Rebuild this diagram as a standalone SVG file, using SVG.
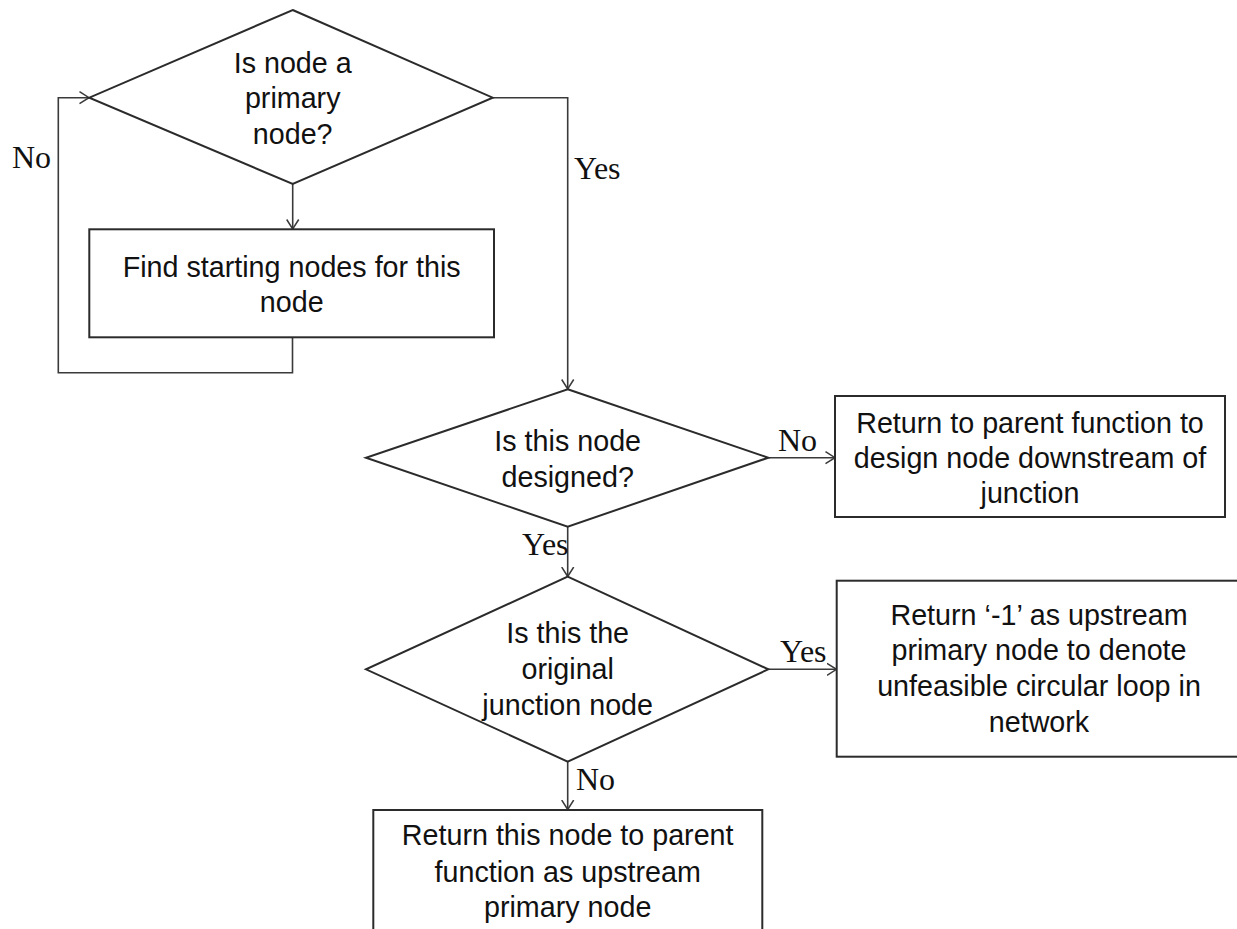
<svg xmlns="http://www.w3.org/2000/svg" width="1237" height="929" viewBox="0 0 1237 929">
  <style>
    .shape { fill: #ffffff; stroke: #2b2b2b; stroke-width: 2; }
    .conn { fill: none; stroke: #3a3a3a; stroke-width: 1.6; }
    .t { font-family: "Liberation Sans", Arial, sans-serif; font-size: 28.7px; fill: #111111; text-anchor: middle; }
    .lbl { font-family: "Liberation Serif", "Times New Roman", serif; font-size: 32px; fill: #111111; }
  </style>
  <defs>
    <marker id="arr" viewBox="0 0 11 14" refX="10" refY="7" markerWidth="11" markerHeight="14" markerUnits="userSpaceOnUse" orient="auto">
      <path d="M0.5,1 L10,7 L0.5,13" fill="none" stroke="#3a3a3a" stroke-width="1.5"/>
    </marker>
  </defs>
  <rect width="1237" height="929" fill="#ffffff"/>

  <g id="connectors">
    <path class="conn" d="M292.7,184 L292.7,229" marker-end="url(#arr)"/>
    <path class="conn" d="M292.5,337.3 L292.5,372.7 L58.3,372.7 L58.3,97.7 L89,97.7" marker-end="url(#arr)"/>
    <path class="conn" d="M492.7,97.7 L567.7,97.7 L567.7,389" marker-end="url(#arr)"/>
    <path class="conn" d="M768.3,457.7 L835,457.7" marker-end="url(#arr)"/>
    <path class="conn" d="M567.7,526.7 L567.7,576.5" marker-end="url(#arr)"/>
    <path class="conn" d="M768.3,669.3 L836.5,669.3" marker-end="url(#arr)"/>
    <path class="conn" d="M567.7,761.7 L567.7,809.5" marker-end="url(#arr)"/>
    <text class="lbl" x="12" y="168">No</text>
    <text class="lbl" x="574" y="179.3">Yes</text>
    <text class="lbl" x="778" y="450.7">No</text>
    <text class="lbl" x="522" y="555">Yes</text>
    <text class="lbl" x="780" y="661.7">Yes</text>
    <text class="lbl" x="576" y="790">No</text>
  </g>

  <g id="decision-primary">
    <polygon class="shape" points="292.7,10 492.7,97.7 292.7,184 89.3,97.7"/>
    <text class="t" x="292.7" y="72.7">Is node a</text>
    <text class="t" x="292.7" y="108.3">primary</text>
    <text class="t" x="292.7" y="144">node?</text>
  </g>

  <g id="find-starting">
    <rect class="shape" x="89.3" y="229.3" width="404.7" height="108"/>
    <text class="t" x="291.7" y="276.7">Find starting nodes for this</text>
    <text class="t" x="291.7" y="311.7">node</text>
  </g>

  <g id="decision-designed">
    <polygon class="shape" points="567.7,389.3 768.3,457.7 567.7,526.7 366,457.7"/>
    <text class="t" x="567.7" y="450.7">Is this node</text>
    <text class="t" x="567.7" y="486.7">designed?</text>
  </g>

  <g id="return-parent">
    <rect class="shape" x="835" y="396" width="390" height="121"/>
    <text class="t" x="1030" y="432.7">Return to parent function to</text>
    <text class="t" x="1030" y="467.5">design node downstream of</text>
    <text class="t" x="1030" y="502.7">junction</text>
  </g>

  <g id="decision-original">
    <polygon class="shape" points="567.7,576.7 768.3,669.3 567.7,761.7 366,669.3"/>
    <text class="t" x="567.7" y="643.3">Is this the</text>
    <text class="t" x="567.7" y="679">original</text>
    <text class="t" x="567.7" y="715">junction node</text>
  </g>

  <g id="return-minus-one">
    <rect class="shape" x="836.7" y="580.7" width="405" height="176"/>
    <text class="t" x="1039" y="625">Return ‘-1’ as upstream</text>
    <text class="t" x="1039" y="660">primary node to denote</text>
    <text class="t" x="1039" y="695.5">unfeasible circular loop in</text>
    <text class="t" x="1039" y="731.5">network</text>
  </g>

  <g id="return-this-node">
    <rect class="shape" x="373.3" y="810" width="389" height="130"/>
    <text class="t" x="567.7" y="845">Return this node to parent</text>
    <text class="t" x="567.7" y="881.5">function as upstream</text>
    <text class="t" x="567.7" y="916.7">primary node</text>
  </g>
</svg>
